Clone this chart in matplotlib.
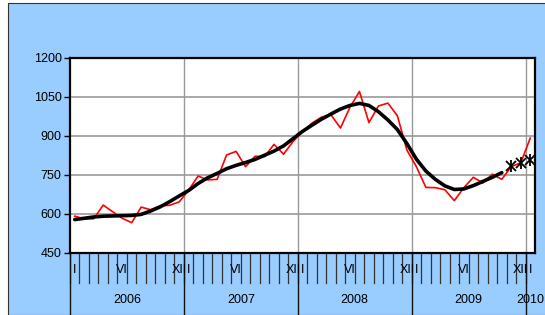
import numpy as np
import matplotlib.pyplot as plt
import matplotlib.transforms as mtransforms
from matplotlib.patches import Rectangle

plt.rcParams['font.family'] = ['Liberation Sans', 'DejaVu Sans']

# Monthly values, Jan 2006 .. Jan 2010
actual = [590, 580, 580, 633, 607, 582, 565, 625, 615, 630, 632, 645,
          690, 745, 730, 732, 826, 840, 781, 821, 820, 867, 829, 878,
          916, 949, 972, 981, 930, 1010, 1071, 951, 1015, 1026, 977, 845,
          781, 701, 700, 692, 650, 700, 740, 718, 752, 732, 781, 796,
          891]
trend = [577, 582, 587, 590, 591, 592, 593, 597, 610, 626, 646, 668,
         689, 716, 738, 755, 773, 786, 797, 809, 825, 841, 861, 889,
         917, 941, 964, 984, 1003, 1017, 1025, 1017, 993, 961, 924, 870,
         810, 764, 732, 707, 693, 695, 708, 724, 740, 758]
forecast = [783, 797, 807]
years = ['2006', '2007', '2008', '2009', '2010']
month_labels = {0: 'I', 5: 'VI', 11: 'XII'}
yticks = [450, 600, 750, 900, 1050, 1200]

W, H = 545, 315
fig = plt.figure(figsize=(W / 100, H / 100), dpi=100)
fig.patch.set_facecolor('white')
fig.patches.append(Rectangle((8 / W, 0), 1, 1 - 3 / H, transform=fig.transFigure,
                             facecolor='#99CCFF', edgecolor='#333333', lw=0.8, zorder=-5))

ax = fig.add_axes([70 / W, 1 - 252.5 / H, 465 / W, 194.5 / H])
ax.set_facecolor('white')

n = len(actual)
x = np.arange(n)
ax.plot(x, actual, color='red', lw=1.2, zorder=3)
ax.plot(x[:len(trend)], trend, color='black', lw=2.6, zorder=4, solid_capstyle='round')
xf = x[len(trend):len(trend) + len(forecast)]
ax.plot(xf, forecast, ls='none', marker='x', ms=7, mew=1.3, color='black', zorder=5)
ax.plot(xf, forecast, ls='none', marker='|', ms=8, mew=1.3, color='black', zorder=5)

ax.set_xlim(-0.5, n - 0.5)
ax.set_ylim(450, 1200)
ax.set_yticks(yticks)
ax.tick_params(axis='y', direction='out', length=4, width=1, labelsize=9, pad=2)
ax.set_xticks([])
for y in yticks:
    ax.axhline(y, color='#999999', lw=1.2, zorder=1)
for k in range(12, n, 12):
    ax.axvline(k - 0.5, color='#999999', lw=1, zorder=1)
for s in ax.spines.values():
    s.set_linewidth(1.6)
    s.set_color('black')

# category axis below the plot
trans = mtransforms.blended_transform_factory(ax.transData, ax.transAxes)
for k in range(n):
    ax.plot([k - 0.5, k - 0.5], [0, -0.155], transform=trans, color='#333333',
            lw=0.9, clip_on=False)
    if k % 12 in month_labels:
        ax.text(k, -0.09, month_labels[k % 12], transform=trans, ha='center',
                va='center', fontsize=9)
for j, yr in enumerate(years):
    k0 = j * 12
    ax.plot([k0 - 0.5, k0 - 0.5], [0, -0.33], transform=trans, color='#111111',
            lw=1, clip_on=False)
    k1 = min(k0 + 12, n)
    ax.text((k0 + k1 - 1) / 2, -0.245, yr, transform=trans, ha='center',
            va='center', fontsize=9)

fig.savefig('out.png', dpi=100)
